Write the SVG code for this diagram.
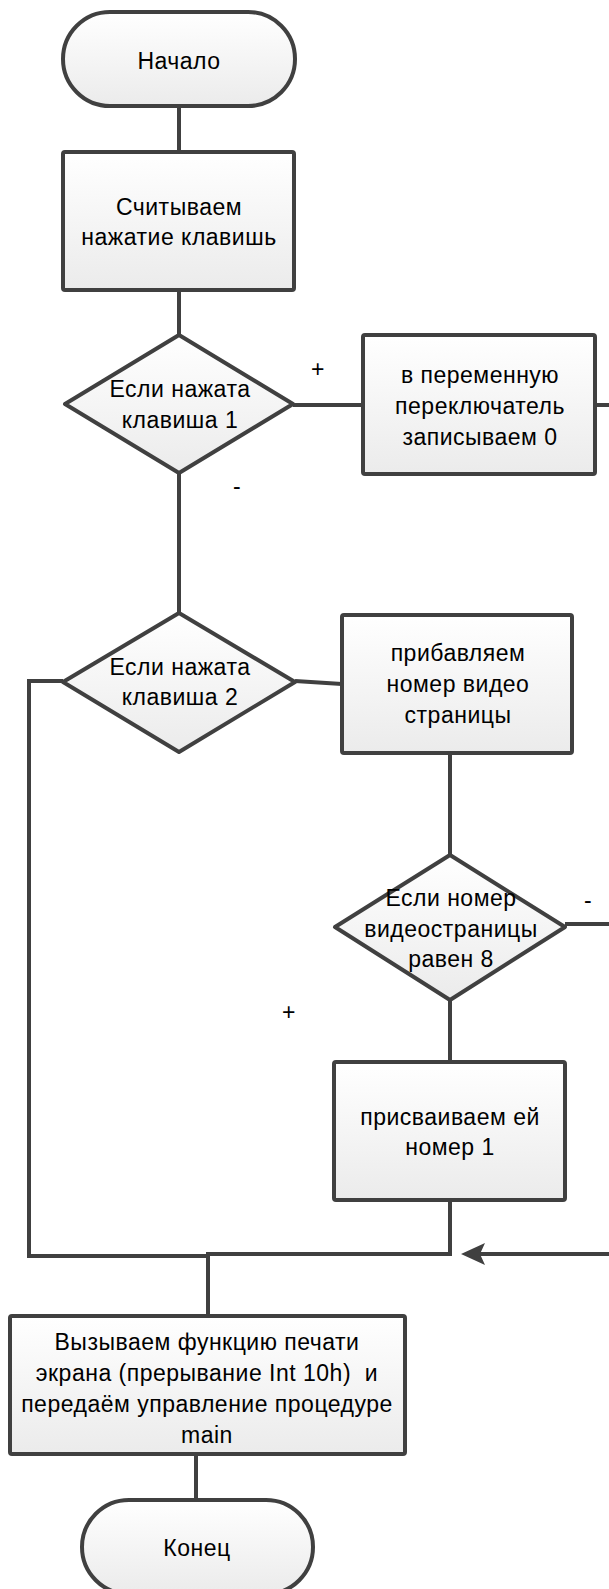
<svg xmlns="http://www.w3.org/2000/svg" width="609" height="1589" viewBox="0 0 609 1589">
<defs>
<linearGradient id="g" x1="0" y1="0" x2="0" y2="1"><stop offset="0" stop-color="#ffffff"/><stop offset="1" stop-color="#ebebeb"/></linearGradient>
<marker id="arr" markerUnits="userSpaceOnUse" markerWidth="24" markerHeight="24" viewBox="0 0 24 24" refX="10" refY="12" orient="auto"><path d="M24,12 L0,1 L5,12 L0,23 Z" fill="#404040"/></marker>
<style>
.s{fill:url(#g);stroke:#404040;stroke-width:4;stroke-linejoin:round}
.c{fill:none;stroke:#404040;stroke-width:4;stroke-linejoin:miter}
text{font-family:"Liberation Sans",Arial,sans-serif;font-size:23px;fill:#000;text-anchor:middle;letter-spacing:0.5px}
</style>
</defs>
<rect width="609" height="1589" fill="#fff"/>
<g id="connectors">
<line class="c" x1="179" y1="106" x2="179" y2="152"/>
<line class="c" x1="179" y1="290" x2="179" y2="335"/>
<line class="c" x1="293" y1="405" x2="363" y2="405"/>
<line class="c" x1="595" y1="405" x2="609" y2="405"/>
<line class="c" x1="179" y1="473" x2="179" y2="613"/>
<line class="c" x1="295" y1="681" x2="342" y2="684"/>
<polyline class="c" points="63,681 29,681 29,1256 208,1256"/>
<polyline class="c" points="450,1200 450,1254 206,1254"/>
<line class="c" x1="450" y1="753" x2="450" y2="855"/>
<line class="c" x1="565" y1="924" x2="609" y2="924"/>
<line class="c" x1="450" y1="1000" x2="450" y2="1062"/>
<line class="c" x1="208" y1="1252" x2="208" y2="1316"/>
<line class="c" x1="609" y1="1254" x2="475" y2="1254" marker-end="url(#arr)"/>
<line class="c" x1="196" y1="1454" x2="196" y2="1500"/>
<text x="318" y="377">+</text>
<text x="237" y="494">-</text>
<text x="588" y="908">-</text>
<text x="289" y="1020">+</text>
</g>
<g id="start">
<rect class="s" x="63" y="12" width="232" height="94" rx="47"/>
<text x="179" y="69">Начало</text>
</g>
<g id="read">
<rect class="s" x="63" y="152" width="231" height="138" rx="2"/>
<text x="179" y="215">Считываем</text>
<text x="179" y="245">нажатие клавишь</text>
</g>
<g id="dec1">
<polygon class="s" points="179,335 293,404 179,473 65,404"/>
<text x="180" y="397">Если нажата</text>
<text x="180" y="428">клавиша 1</text>
</g>
<g id="set0">
<rect class="s" x="363" y="335" width="232" height="139" rx="2"/>
<text x="480" y="383">в переменную</text>
<text x="480" y="414">переключатель</text>
<text x="480" y="445">записываем 0</text>
</g>
<g id="dec2">
<polygon class="s" points="179,613 295,682 179,752 63,682"/>
<text x="180" y="675">Если нажата</text>
<text x="180" y="705">клавиша 2</text>
</g>
<g id="inc">
<rect class="s" x="342" y="615" width="230" height="138" rx="2"/>
<text x="458" y="661">прибавляем</text>
<text x="458" y="692">номер видео</text>
<text x="458" y="723">страницы</text>
</g>
<g id="dec3">
<polygon class="s" points="450,855 565,927 450,1000 335,927"/>
<text x="451" y="906">Если номер</text>
<text x="451" y="937">видеостраницы</text>
<text x="451" y="967">равен 8</text>
</g>
<g id="assign">
<rect class="s" x="334" y="1062" width="231" height="138" rx="2"/>
<text x="450" y="1125">присваиваем ей</text>
<text x="450" y="1155">номер 1</text>
</g>
<g id="call">
<rect class="s" x="10" y="1316" width="395" height="138" rx="2"/>
<text x="207" y="1350">Вызываем функцию печати</text>
<text x="207" y="1381">экрана (прерывание Int 10h)&#160; и</text>
<text x="207" y="1412">передаём управление процедуре</text>
<text x="207" y="1443">main</text>
</g>
<g id="end">
<rect class="s" x="82" y="1500" width="231" height="94" rx="47"/>
<text x="197" y="1556">Конец</text>
</g>
</svg>
